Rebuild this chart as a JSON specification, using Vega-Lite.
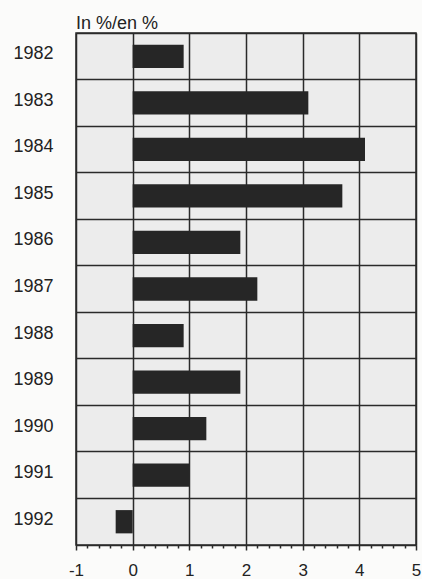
{
  "$schema": "https://vega.github.io/schema/vega-lite/v6.json",
  "width": 340,
  "height": 512,
  "autosize": "none",
  "padding": {"left": 76, "top": 33, "right": 6, "bottom": 34},
  "background": "#fbfbfa",
  "title": {
    "text": "In %/en %",
    "anchor": "start",
    "frame": "group",
    "font": "Liberation Sans",
    "fontSize": 18,
    "fontWeight": "normal",
    "color": "#222222",
    "baseline": "alphabetic",
    "offset": 6,
    "dy": 20
  },
  "config": {
    "view": {"stroke": "#2a2a2a", "strokeWidth": 1.5, "fill": "#ececec"},
    "axis": {"labelFont": "Liberation Sans", "labelColor": "#222222"}
  },
  "data": {
    "values": [
      {"year": "1982", "value": 0.9},
      {"year": "1983", "value": 3.1},
      {"year": "1984", "value": 4.1},
      {"year": "1985", "value": 3.7},
      {"year": "1986", "value": 1.9},
      {"year": "1987", "value": 2.2},
      {"year": "1988", "value": 0.9},
      {"year": "1989", "value": 1.9},
      {"year": "1990", "value": 1.3},
      {"year": "1991", "value": 1.0},
      {"year": "1992", "value": -0.3}
    ]
  },
  "mark": {"type": "bar", "color": "#262626", "height": {"band": 0.5}},
  "encoding": {
    "y": {
      "field": "year",
      "type": "nominal",
      "sort": null,
      "scale": {"paddingInner": 0, "paddingOuter": 0},
      "axis": {
        "title": null,
        "bandPosition": 0,
        "grid": true,
        "gridColor": "#2a2a2a",
        "gridWidth": 1.5,
        "gridOpacity": 1,
        "ticks": false,
        "domain": false,
        "labelFontSize": 18,
        "labelPadding": 23,
        "labelBaseline": "middle",
        "labelOffset": -2
      }
    },
    "x": {
      "field": "value",
      "type": "quantitative",
      "scale": {"domain": [-1, 5], "nice": false},
      "axis": {
        "title": null,
        "values": [-1, -0.8, -0.6, -0.4, -0.2, 0, 0.2, 0.4, 0.6, 0.8, 1, 1.2, 1.4, 1.6, 1.8, 2, 2.2, 2.4, 2.6, 2.8, 3, 3.2, 3.4, 3.6, 3.8, 4, 4.2, 4.4, 4.6, 4.8, 5],
        "labelExpr": "abs(datum.value - round(datum.value)) < 0.01 ? '' + round(datum.value) : ''",
        "labelOverlap": false,
        "labelFlush": false,
        "labelFontSize": 17,
        "labelPadding": 12,
        "grid": true,
        "gridColor": "#2a2a2a",
        "gridWidth": 1.5,
        "gridOpacity": {"condition": {"test": "abs(datum.value - round(datum.value)) < 0.01", "value": 1}, "value": 0},
        "domainColor": "#2a2a2a",
        "domainWidth": 1.5,
        "tickColor": "#2a2a2a",
        "tickWidth": 1.5,
        "tickSize": {"condition": {"test": "abs(datum.value - round(datum.value)) < 0.01", "value": 5}, "value": 3}
      }
    }
  }
}
